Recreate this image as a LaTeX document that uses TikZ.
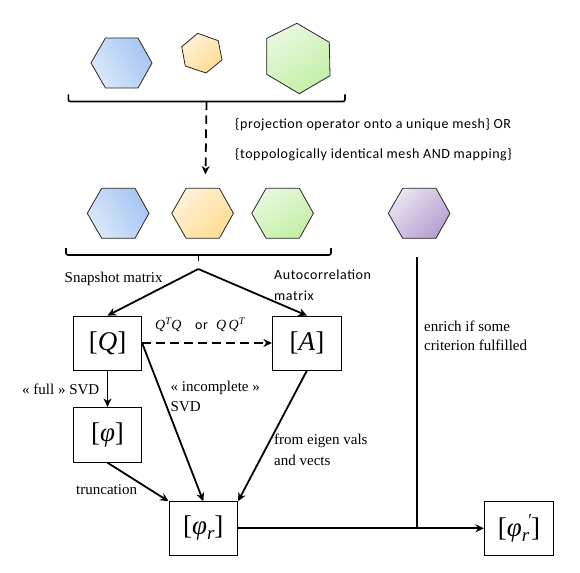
\documentclass[tikz,border=0pt]{standalone}
\usepackage{fontspec}
\usetikzlibrary{arrows.meta,calc}
\newfontfamily\calfont[LetterSpace=4]{Carlito}
\newfontfamily\timfont{Liberation Serif}
\definecolor{tb}{HTML}{A4C6F3}\definecolor{tbl}{HTML}{DCE8FA}
\definecolor{to}{HTML}{FFDC94}\definecolor{tol}{HTML}{FFF2D8}
\definecolor{tg}{HTML}{C2F0A4}\definecolor{tgl}{HTML}{E8F8DF}
\definecolor{tp}{HTML}{B79FD2}\definecolor{tpl}{HTML}{E9E3F1}
\tikzset{
 x=1pt,y=-1pt,
 hexa/.style={draw=black!85,line width=0.8pt,line join=round},
 blueh/.style={hexa,left color=tbl,right color=tb,shading angle=120},
 orangeh/.style={hexa,left color=tol,right color=to,shading angle=45},
 greenh/.style={hexa,left color=tgl,right color=tg,shading angle=35},
 purpleh/.style={hexa,left color=tpl,right color=tp,shading angle=45},
 bracket/.style={line width=1.6pt,rounded corners=2pt},
 conn/.style={line width=1.8pt,-{Stealth[length=8.5pt,width=8pt]}},
 plain/.style={line width=1.8pt},
 mat/.style={draw=black,line width=0.8pt,inner sep=0pt,font=\timfont\fontsize{27}{28}\selectfont},
 lab/.style={inner sep=0pt,anchor=west,font=\timfont\fontsize{15}{17}\selectfont},
 clab/.style={inner sep=0pt,anchor=west,font=\calfont\fontsize{14}{16}\selectfont},
 mlab/.style={inner sep=0pt,anchor=west,font=\timfont\itshape\fontsize{14}{16}\selectfont},
}
\newcommand{\hexrow}[2]{\shade[#1] (#2,213.3) -- ++(14.4,-25) -- ++(33.3,0) -- ++(14,25) -- ++(-14,25) -- ++(-33.3,0) -- cycle;}
\newcommand{\subr}{\raisebox{-5pt}{\itshape\fontsize{19}{19}\selectfont r}}
\newcommand{\primesign}{\raisebox{11pt}{\fontsize{17}{17}\selectfont ′}}
\begin{document}
\begin{tikzpicture}
\useasboundingbox (0,0) rectangle (580,572);
% top hexagons
\shade[blueh] (91,63) -- (105.5,38) -- (138,38) -- (152,63) -- (138,88) -- (105.5,88) -- cycle;
\shade[orangeh] (181.7,46.7) -- (197.7,33.3) -- (218.3,40.7) -- (222,60) -- (206,73) -- (185.3,66) -- cycle;
\shade[greenh] (297,23.3) -- (329.3,42.3) -- (330,75.7) -- (299.3,93.7) -- (266.7,74.3) -- (266.7,38.3) -- cycle;
% brace 1
\draw[bracket] (68.3,94.5) -- (68.3,101.5) -- (345,101.5) -- (345,94.5);
\coordinate (b1) at (206.5,101.5);
\coordinate (r2) at (205.5,174.5);
\draw[conn,dash pattern=on 8.5pt off 5.5pt] (b1) -- (r2);
% second row
\hexrow{blueh}{87.3}
\hexrow{orangeh}{171.7}
\hexrow{greenh}{251.7}
\hexrow{purpleh}{388.3}
% brace 2
\draw[bracket] (66,248) -- (66,255) -- (331,255) -- (331,248);
\coordinate (b2) at (198.3,255);
\coordinate (apex) at (198.3,269);
\draw[line width=1.6pt] (b2) -- ++(0,6);
% boxes
\node[mat,minimum width=68.4pt,minimum height=54pt] (Q) at (107.5,343) {[\textit{Q}]};
\node[mat,minimum width=69.4pt,minimum height=54pt] (A) at (307,343) {[\textit{A}]};
\node[mat,minimum width=68.4pt,minimum height=55pt] (phi) at (107.5,434.8) {[\textit{φ}]};
\node[mat,minimum width=68.7pt,minimum height=53.3pt] (phir) at (203.3,528.3) {[\textit{φ}\subr]};
\node[mat,minimum width=69.4pt,minimum height=53.3pt] (phirp) at (519,528.3) {[\textit{φ}\subr\kern-1pt\primesign\kern-1pt]};
% connectors
\draw[conn] (apex) -- (Q.north);
\draw[conn] (apex) -- (A.north);
\draw[conn,dash pattern=on 8.5pt off 5.5pt] (Q.east) -- (A.west);
\draw[conn] (Q.south) -- (phi.north);
\draw[conn] (Q.east) -- (phir.north);
\draw[conn] (phi.south) -- (phir.north west);
\draw[conn] (A.south) -- (phir.north east);
\draw[conn] (phir.east) -- (phirp.west);
\coordinate (ptop) at (416.7,257.3);
\coordinate (junc) at (phir.east -| ptop);
\draw[plain] (ptop) -- (junc);
% labels
\node[clab] (t1) at (235,125) {\{projection operator onto a unique mesh\} OR};
\node[clab] (t2) at (235,155) {\{toppologically identical mesh AND mapping\}};
\node[lab] (l1) at (64.5,279) {Snapshot matrix};
\node[clab] (l2) at (274,275) {Autocorrelation};
\node[clab] (l3) at (274,296) {matrix};
\node[mlab] (l4) at (155,325) {Q$^{\mbox{\fontsize{10}{10}\selectfont\timfont\itshape T}}$Q};
\node[clab] (l5) at (195,326) {or};
\node[mlab] (l6) at (216,325) {Q\,Q$^{\mbox{\fontsize{10}{10}\selectfont\timfont\itshape T}}$};
\node[lab] (l7) at (22,389) {« full » SVD};
\node[lab] (l8) at (170.5,388) {« incomplete »};
\node[lab] (l9) at (170.5,407) {SVD};
\node[lab] (l10) at (274,441) {from eigen vals};
\node[lab] (l11) at (274,460) {and vects};
\node[lab] (l12) at (76,490) {truncation};
\node[lab] (l13) at (424,326) {enrich if some};
\node[lab] (l14) at (424,345) {criterion fulfilled};
\end{tikzpicture}
\end{document}
